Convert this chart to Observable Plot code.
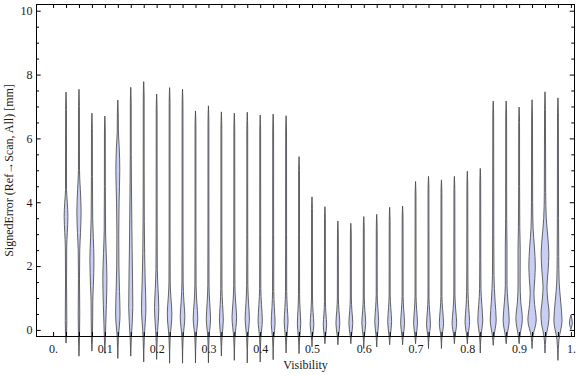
<!DOCTYPE html>
<html><head><meta charset="utf-8">
<script src="https://cdn.jsdelivr.net/npm/d3@7"></script>
<script src="https://cdn.jsdelivr.net/npm/@observablehq/plot@0.6"></script>
<style>body{margin:0;background:#fff} svg text{font-family:"Liberation Serif","Times New Roman",serif !important;}</style>
</head><body><div id="chart"></div>
<script>
// Violin centres (Visibility)
const positions = [0.025,0.05,0.075,0.1,0.125,0.15,0.175,0.2,0.225,0.25,0.275,0.3,0.325,0.35,0.375,0.4,0.425,0.45,0.475,0.5,0.525,0.55,0.575,0.6,0.625,0.65,0.675,0.7,0.725,0.75,0.775,0.8,0.825,0.85,0.875,0.9,0.925,0.95,0.975,1.0];
// Max of each distribution (top tip)
const tops = [7.45,7.54,6.79,6.70,7.20,7.60,7.78,7.39,7.59,7.54,6.86,7.02,6.83,6.79,6.82,6.73,6.76,6.71,5.43,4.17,3.86,3.41,3.34,3.55,3.62,3.84,3.88,4.65,4.81,4.70,4.81,4.97,5.06,7.17,7.17,6.98,7.21,7.46,7.27,0.47];
// Min of each distribution (bottom tip)
const bottoms = [-0.40,-0.81,-0.65,-0.72,-0.88,-0.81,-0.99,-0.91,-1.03,-1.03,-1.02,-1.02,-0.80,-0.94,-1.02,-0.99,-0.92,-0.71,-0.73,-0.52,-0.42,-0.45,-0.42,-0.57,-0.52,-0.45,-0.45,-0.42,-0.57,-0.57,-0.42,-0.42,-0.71,-0.47,-0.42,-0.42,-0.57,-0.71,-0.94,0.03];
// Density profile of each violin: [SignedError, relative half-width]
const profiles = [
  [[-0.15,0.6],[0.3,0.9],[1.5,0.6],[2.6,0.8],[3.05,1.5],[3.55,2.2],[4.0,1.5],[4.4,0.6],[6.9,0.5]],
  [[-0.25,0.6],[0.5,0.9],[1.6,0.6],[2.5,0.9],[3.05,1.8],[3.7,2.5],[4.4,1.6],[5.0,0.6],[7.0,0.5]],
  [[-0.25,0.6],[0.4,0.9],[0.9,1.0],[1.4,1.7],[2.2,2.4],[2.9,1.6],[3.5,0.9],[4.8,0.6],[6.3,0.5]],
  [[-0.25,0.6],[0.2,1.1],[0.8,1.8],[1.6,2.4],[2.4,1.6],[3.1,0.8],[4.5,0.55],[6.2,0.5]],
  [[-0.25,0.7],[0.5,2.6],[1.2,2.0],[2.0,1.3],[3.0,1.1],[4.0,1.5],[5.0,2.3],[5.7,1.7],[6.2,0.7],[6.8,0.5]],
  [[-0.25,0.7],[0.7,2.4],[1.6,2.1],[2.5,1.6],[3.5,1.2],[4.6,0.8],[5.5,0.55],[7.1,0.5]],
  [[-0.25,0.7],[0.7,2.6],[1.5,1.8],[2.4,1.1],[3.4,0.7],[5.0,0.55],[7.3,0.5]],
  [[-0.25,0.7],[0.7,2.5],[1.3,1.6],[1.9,0.8],[3.0,0.6],[6.9,0.5]],
  [[-0.25,0.7],[0.5,2.7],[1.0,1.6],[1.5,0.7],[3.0,0.55],[7.1,0.5]],
  [[-0.25,0.7],[0.42,2.7],[0.9,1.6],[1.5,0.7],[3.0,0.55],[7.0,0.5]],
  [[-0.25,0.7],[0.37,2.7],[0.85,1.6],[1.4,0.7],[3.0,0.55],[6.4,0.5]],
  [[-0.25,0.7],[0.37,2.5],[0.85,1.5],[1.4,0.7],[3.0,0.55],[6.5,0.5]],
  [[-0.25,0.7],[0.31,2.3],[0.8,1.4],[1.3,0.7],[3.0,0.55],[6.3,0.5]],
  [[-0.25,0.7],[0.4,2.7],[0.85,1.6],[1.4,0.7],[3.0,0.55],[6.3,0.5]],
  [[-0.25,0.7],[0.37,2.5],[0.85,1.5],[1.4,0.7],[3.0,0.55],[6.3,0.5]],
  [[-0.25,0.7],[0.31,2.5],[0.8,1.5],[1.3,0.7],[3.0,0.55],[6.2,0.5]],
  [[-0.25,0.7],[0.21,2.3],[0.7,1.4],[1.2,0.7],[3.0,0.55],[6.2,0.5]],
  [[-0.25,0.7],[0.26,2.3],[0.7,1.4],[1.2,0.7],[3.0,0.55],[6.2,0.5]],
  [[-0.25,0.7],[0.21,2.0],[0.65,1.2],[1.1,0.65],[3.0,0.5],[5.0,0.5]],
  [[-0.2,0.7],[0.16,2.2],[0.55,1.3],[1.0,0.6],[3.8,0.5]],
  [[-0.2,0.7],[0.16,2.0],[0.5,1.2],[0.9,0.6],[3.5,0.5]],
  [[-0.2,0.7],[0.21,2.3],[0.6,1.3],[1.0,0.6],[3.0,0.5]],
  [[-0.2,0.7],[0.21,2.3],[0.6,1.3],[1.0,0.6],[3.0,0.5]],
  [[-0.2,0.7],[0.21,2.3],[0.6,1.3],[1.0,0.6],[3.2,0.5]],
  [[-0.2,0.7],[0.26,2.3],[0.7,1.3],[1.1,0.6],[3.2,0.5]],
  [[-0.2,0.7],[0.26,2.3],[0.7,1.3],[1.1,0.6],[3.4,0.5]],
  [[-0.2,0.7],[0.21,2.3],[0.65,1.3],[1.05,0.6],[3.5,0.5]],
  [[-0.2,0.7],[0.21,2.3],[0.65,1.3],[1.05,0.6],[4.2,0.5]],
  [[-0.2,0.7],[0.16,2.3],[0.6,1.3],[1.0,0.6],[4.4,0.5]],
  [[-0.2,0.7],[0.21,2.5],[0.65,1.4],[1.05,0.6],[4.3,0.5]],
  [[-0.2,0.7],[0.21,2.7],[0.65,1.5],[1.1,0.65],[4.4,0.5]],
  [[-0.2,0.7],[0.26,2.7],[0.7,1.6],[1.2,0.8],[2.0,0.6],[4.5,0.5]],
  [[-0.2,0.8],[0.31,2.9],[0.8,1.8],[1.3,0.8],[2.2,0.6],[4.6,0.5]],
  [[-0.2,0.9],[0.31,3.5],[0.9,2.2],[1.7,0.9],[3.0,0.65],[6.7,0.5]],
  [[-0.2,0.9],[0.31,3.6],[0.9,2.0],[1.4,1.0],[2.6,1.0],[3.5,0.6],[6.7,0.5]],
  [[-0.2,0.9],[0.35,3.8],[0.9,1.9],[1.5,1.2],[2.5,1.3],[3.2,0.8],[4.5,0.55],[6.5,0.5]],
  [[-0.2,1.0],[0.31,4.9],[0.8,3.0],[1.15,2.2],[1.6,3.2],[2.0,3.8],[2.6,2.8],[3.2,1.2],[4.0,0.7],[6.7,0.5]],
  [[-0.2,1.2],[0.15,3.8],[0.5,4.8],[1.0,3.0],[1.35,2.3],[1.9,3.8],[2.4,4.5],[3.0,3.0],[3.5,1.5],[4.3,0.8],[6.9,0.5]],
  [[-0.3,1.2],[0.3,4.8],[0.9,3.2],[1.5,1.4],[2.3,0.9],[3.5,0.7],[6.8,0.5]],
  [[0.22,1.7]]
];
const xTickValues = [0,0.1,0.2,0.3,0.4,0.5,0.6,0.7,0.8,0.9,1.0];
const xTickLabels = ["0.","0.1","0.2","0.3","0.4","0.5","0.6","0.7","0.8","0.9","1."];
const yTickValues = [0,2,4,6,8,10];
const xLabel = "Visibility";
const yLabel = "SignedError (Ref\u2192Scan, All) [mm]";

const rows = [];
positions.forEach((p, i) => {
  const knots = [[bottoms[i], 0], ...profiles[i], [tops[i], 0]];
  for (const [v, w] of knots) rows.push({k: i, p, v, w});
});

const W = 576, H = 377, mL = 36, mR = 2, mT = 4, mB = 41;
const frameW = W - mL - mR, frameH = H - mT - mB;
const S = 0.85 / 518; // half-width units -> Visibility units

const minorX = d3.range(0, 1.0001, 0.025);
const minorY = d3.range(0, 10.0001, 0.5);
const majorY = yTickValues;
const font = "'Liberation Serif', 'Times New Roman', serif";

const chart = Plot.plot({
  width: W, height: H,
  marginLeft: mL, marginRight: mR, marginTop: mT, marginBottom: mB,
  style: {fontFamily: font, fontSize: "12px", background: "#fff", color: "#1a1a1a"},
  x: {domain: [-0.033, 1.006], axis: null},
  y: {domain: [-0.19, 10.21], axis: null},
  marks: [
    Plot.areaX(rows, {
      y: "v", x1: d => d.p - d.w * S, x2: d => d.p + d.w * S, z: "k",
      curve: "monotone-y", fill: "#c9cff4", stroke: "#4a4a4a", strokeWidth: 1, strokeOpacity: 0.85
    }),
    Plot.frame({stroke: "#000", strokeWidth: 1}),
    // inward ticks
    Plot.tickX(minorX, {x: d => d, insetTop: frameH - 4, stroke: "#000"}),
    Plot.tickX(minorX, {x: d => d, insetBottom: frameH - 4, stroke: "#000"}),
    Plot.tickY(minorY.filter(v => !majorY.includes(v)), {y: d => d, insetRight: frameW - 3, stroke: "#000"}),
    Plot.tickY(majorY, {y: d => d, insetRight: frameW - 4.7, stroke: "#000"}),
    Plot.tickY(minorY.filter(v => !majorY.includes(v)), {y: d => d, insetLeft: frameW - 2.7, stroke: "#000"}),
    Plot.tickY(majorY, {y: d => d, insetLeft: frameW - 4.3, stroke: "#000"}),
    Plot.axisX({ticks: xTickValues, tickFormat: d => xTickLabels[xTickValues.indexOf(d)], tickSize: 0, tickPadding: 8, label: null, fontSize: 12, fontFamily: font}),
    Plot.axisY({ticks: yTickValues, tickFormat: d => String(d), tickSize: 0, tickPadding: 4, label: null, fontSize: 12, fontFamily: font}),
    Plot.text([xLabel], {text: d => d, frameAnchor: "bottom", textAnchor: "middle", dy: 32, fontSize: 12, fontFamily: font}),
    Plot.text([yLabel], {text: d => d, frameAnchor: "left", textAnchor: "middle", rotate: -90, dx: -27, fontSize: 12, fontFamily: font})
  ]
});
document.getElementById("chart").append(chart);
</script>
</body></html>
